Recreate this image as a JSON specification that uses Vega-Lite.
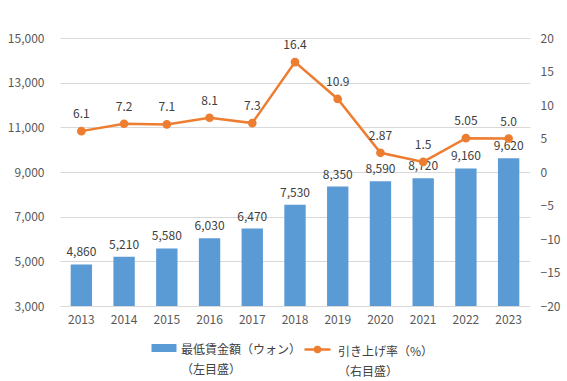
{
  "$schema": "https://vega.github.io/schema/vega-lite/v6.json",
  "width": 470,
  "height": 268,
  "autosize": {"type": "none"},
  "padding": {"left": 60, "top": 38, "right": 37, "bottom": 75},
  "background": "white",
  "config": {
    "view": {"stroke": null},
    "font": "Noto Sans CJK JP",
    "axis": {"labelFont": "Noto Sans CJK JP", "labelFontSize": 12, "labelColor": "#595959", "ticks": false, "domain": false, "title": null}
  },
  "data": {
    "values": [
      {"year": "2013", "wage": 4860, "rate": 6.1, "rateLabel": "6.1"},
      {"year": "2014", "wage": 5210, "rate": 7.2, "rateLabel": "7.2"},
      {"year": "2015", "wage": 5580, "rate": 7.1, "rateLabel": "7.1"},
      {"year": "2016", "wage": 6030, "rate": 8.1, "rateLabel": "8.1"},
      {"year": "2017", "wage": 6470, "rate": 7.3, "rateLabel": "7.3"},
      {"year": "2018", "wage": 7530, "rate": 16.4, "rateLabel": "16.4"},
      {"year": "2019", "wage": 8350, "rate": 10.9, "rateLabel": "10.9"},
      {"year": "2020", "wage": 8590, "rate": 2.87, "rateLabel": "2.87"},
      {"year": "2021", "wage": 8720, "rate": 1.5, "rateLabel": "1.5"},
      {"year": "2022", "wage": 9160, "rate": 5.05, "rateLabel": "5.05"},
      {"year": "2023", "wage": 9620, "rate": 5.0, "rateLabel": "5.0"}
    ]
  },
  "encoding": {
    "x": {
      "field": "year", "type": "ordinal",
      "scale": {"paddingInner": 0.5, "paddingOuter": 0.25},
      "axis": {"labelAngle": 0, "labelPadding": 8, "grid": false}
    }
  },
  "layer": [
    {
      "encoding": {
        "y": {
          "field": "wage", "type": "quantitative",
          "scale": {"domain": [3000, 15000], "nice": false, "zero": false},
          "axis": {"orient": "left", "values": [3000, 5000, 7000, 9000, 11000, 13000, 15000], "format": ",.0f", "grid": true, "gridColor": "#D9D9D9", "labelPadding": 16}
        }
      },
      "layer": [
        {
          "mark": {"type": "bar"},
          "encoding": {
            "y2": {"datum": 3000},
            "fill": {
              "datum": "最低賃金額（ウォン）\n（左目盛）",
              "type": "nominal",
              "scale": {"range": ["#5B9BD5"]},
              "legend": {
                "orient": "none", "legendX": 94, "legendY": 302, "title": null,
                "symbolType": "M-1.25,-0.6H1.25V0.2H-1.25Z", "symbolSize": 400, "symbolStrokeWidth": 0,
                "labelFontSize": 12, "labelColor": "#404040", "labelBaseline": "middle",
                "labelExpr": "split(datum.label, '\\n')", "labelOffset": 7, "labelLimit": 300,
                "encode": {"labels": {"update": {"lineHeight": {"value": 20}}}}
              }
            }
          }
        },
        {
          "mark": {"type": "text", "baseline": "bottom", "dy": -5, "fontSize": 12, "color": "#404040"},
          "encoding": {"text": {"field": "wage", "type": "quantitative", "format": ","}}
        }
      ]
    },
    {
      "encoding": {
        "y": {
          "field": "rate", "type": "quantitative",
          "scale": {"domain": [-20, 20], "nice": false, "zero": false},
          "axis": {"orient": "right", "values": [-20, -15, -10, -5, 0, 5, 10, 15, 20], "grid": false, "labelPadding": 10}
        }
      },
      "layer": [
        {
          "mark": {"type": "line", "strokeWidth": 2.5, "point": {"filled": true, "size": 45, "color": "#ED7D31"}},
          "encoding": {
            "stroke": {
              "datum": "引き上げ率（%）\n（右目盛）",
              "type": "nominal",
              "scale": {"range": ["#ED7D31"]},
              "legend": {
                "orient": "none", "legendX": 246, "legendY": 302, "title": null,
                "symbolType": "M-1.3,-0.2H1.3M-0.25,-0.2A0.25,0.25,0,1,1,0.25,-0.2A0.25,0.25,0,1,1,-0.25,-0.2Z", "symbolSize": 400,
                "symbolStrokeWidth": 2.5, "symbolFillColor": "#ED7D31",
                "labelFontSize": 12, "labelColor": "#404040", "labelBaseline": "middle",
                "labelExpr": "split(datum.label, '\\n')", "labelOffset": 9, "labelLimit": 300,
                "encode": {"labels": {"update": {"lineHeight": {"value": 20}}}}
              }
            }
          }
        },
        {
          "mark": {"type": "text", "baseline": "bottom", "dy": -10, "fontSize": 12, "color": "#404040"},
          "encoding": {"text": {"field": "rateLabel", "type": "nominal"}}
        }
      ]
    }
  ],
  "resolve": {"scale": {"y": "independent"}}
}
